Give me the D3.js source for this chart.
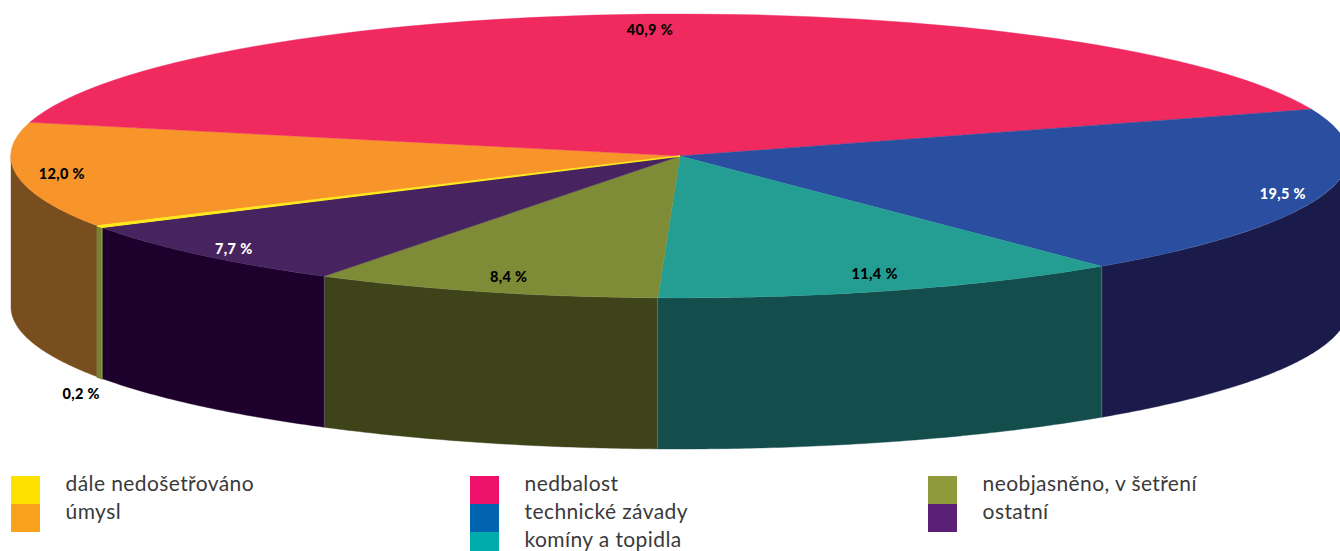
<!DOCTYPE html>
<html>
<head>
<meta charset="utf-8">
<script src="https://cdn.jsdelivr.net/npm/d3@7/dist/d3.min.js"></script>
<style>html,body{margin:0;padding:0;background:#fff;overflow:hidden}svg{display:block}</style>
</head>
<body>
<svg id="chart" width="1340" height="551"></svg>
<script>
const categories = ["dále nedošetřováno","úmysl","nedbalost","technické závady","komíny a topidla","neobjasněno, v šetření","ostatní"];
const values = [0.2,12.0,40.9,19.5,11.4,8.4,7.7];
const valueLabels = ["0,2 %","12,0 %","40,9 %","19,5 %","11,4 %","8,4 %","7,7 %"];
const topColors = ["#FFE81F","#F7952B","#F0295F","#2A4EA0","#249E93","#7E8C38","#47245F"];
const wallColors = ["#7A8035","#784E1E","#8A1A3A","#1B1B4B","#134D4C","#3E431A","#1E002D"];
const legendColors = ["#FFE100","#FAA21B","#EE1169","#0064B1","#00ABAB","#8F9B3B","#5B1F77"];
const labelColors = ["#000","#000","#000","#fff","#000","#000","#fff"];

// layout
const W = 1340, H = 551, cx = 680, cy = 156, rx = 669, ry = 142, depth = 151;
const startDeg = 239.82;
// label anchors, in units of the ellipse radii (same order as the categories)
const labelAnchors = [[-.895,1.669],[-.924,.12],[-.045,-.894],[.901,.261],[.291,.824],[-.256,.845],[-.667,.648]];
const legendCols = [[0,1],[2,3,4],[5,6]];
const legendX = [11,470,928], legendTextOffset = 54.6, legendTop = 476, rowH = 28, swatchW = 29;

const svg = d3.select("#chart");
const sx = d3.scaleLinear().domain([-1,1]).range([cx-rx,cx+rx]);
const sy = d3.scaleLinear().domain([-1,1]).range([cy-ry,cy+ry]);

const toRad = d => d*Math.PI/180;
const pie = d3.pie().sort(null).startAngle(toRad(startDeg)).endAngle(toRad(startDeg+360));
const arcs = pie(values);

// visible front side of the cylinder lies between 90° and 270°
const front0 = Math.PI/2, front1 = 3*Math.PI/2;
const line = d3.line().x(d=>d[0]).y(d=>d[1]);
function wallPath(a0,a1){
  const n = Math.max(2,Math.ceil((a1-a0)/toRad(0.5)));
  const ang = d3.range(n+1).map(i=>a0+(a1-a0)*i/n);
  const top = ang.map(a=>[sx(Math.sin(a)),sy(-Math.cos(a))]);
  const bot = ang.slice().reverse().map(a=>[sx(Math.sin(a)),sy(-Math.cos(a))+depth]);
  return line(top.concat(bot))+"Z";
}
const walls = [];
arcs.forEach((d,i)=>{
  for (const shift of [0,-2*Math.PI]) {
    const a0 = Math.max(d.startAngle+shift,front0), a1 = Math.min(d.endAngle+shift,front1);
    if (a1>a0) walls.push({i,a0,a1});
  }
});
const thinStroke = i => values[i] < 1 ? 2 : .4;
svg.append("g").selectAll("path").data(walls.slice().sort((a,b)=>thinStroke(a.i)-thinStroke(b.i))).join("path")
  .attr("d",d=>wallPath(d.a0,d.a1))
  .attr("fill",d=>wallColors[d.i])
  .attr("stroke",d=>wallColors[d.i]).attr("stroke-width",d=>thinStroke(d.i));

// seams between the wall segments
const seams = walls.filter(d=>d.a1<front1 && values[d.i] >= 1);
svg.append("g").selectAll("line").data(seams).join("line")
  .attr("x1",d=>sx(Math.sin(d.a1))).attr("x2",d=>sx(Math.sin(d.a1)))
  .attr("y1",d=>sy(-Math.cos(d.a1))).attr("y2",d=>sy(-Math.cos(d.a1))+depth)
  .attr("stroke","#fff").attr("stroke-opacity",.25).attr("stroke-width",.7);

// top face
const arc = d3.arc().innerRadius(0).outerRadius(1);
svg.append("g").attr("transform",`translate(${cx},${cy}) scale(${rx},${ry})`)
  .selectAll("path").data(arcs.slice().sort((a,b)=>thinStroke(a.index)-thinStroke(b.index))).join("path")
  .attr("d",arc)
  .attr("fill",d=>topColors[d.index])
  .attr("stroke",d=>topColors[d.index]).attr("stroke-width",d=>values[d.index]<1?1.3:.4)
  .attr("vector-effect","non-scaling-stroke");

// value labels
svg.append("g").selectAll("text").data(valueLabels).join("text")
  .attr("x",(d,i)=>sx(labelAnchors[i][0])).attr("y",(d,i)=>sy(labelAnchors[i][1]))
  .attr("dy","0.42em").attr("text-anchor","middle")
  .attr("font-family","Lato, sans-serif").attr("font-weight",900).attr("font-size",14.5).attr("letter-spacing",.35)
  .attr("fill",(d,i)=>labelColors[i]).text(d=>d);

// legend
legendCols.forEach((col,c)=>{
  const g = svg.append("g").attr("transform",`translate(${legendX[c]},${legendTop})`);
  const y = d3.scaleBand().domain(col).range([0,col.length*rowH]);
  g.selectAll("rect").data(col).join("rect")
    .attr("x",0).attr("y",d=>y(d)).attr("width",swatchW).attr("height",rowH)
    .attr("fill",d=>legendColors[d]);
  g.selectAll("text").data(col).join("text")
    .attr("x",legendTextOffset).attr("y",d=>y(d)+15).attr("text-anchor","start")
    .attr("font-family","Lato, sans-serif").attr("font-size",21).attr("letter-spacing",.4).attr("fill","#3a3a3a")
    .text(d=>categories[d]);
});
</script>
</body>
</html>
